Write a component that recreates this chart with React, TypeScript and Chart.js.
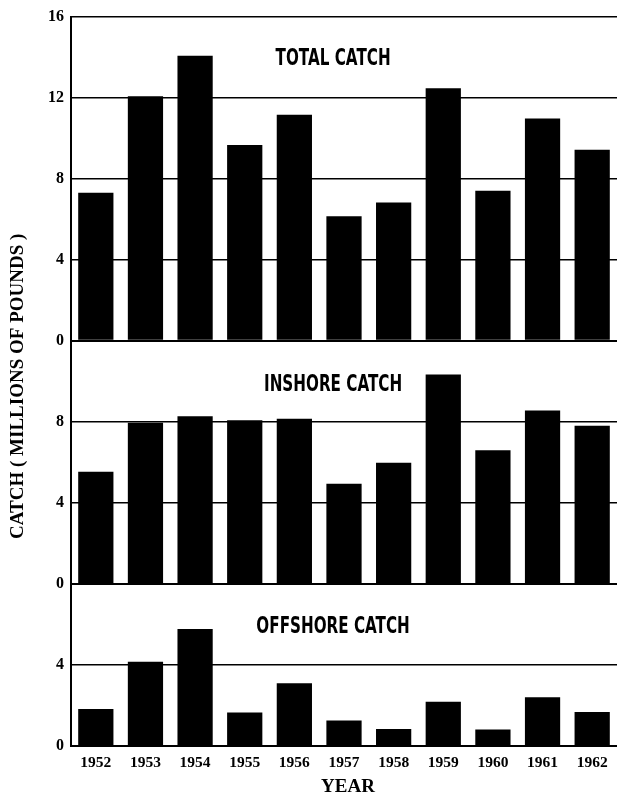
import React, { useEffect, useRef } from 'react';
import { Chart, registerables } from 'chart.js';

Chart.register(...registerables);

const years = ['1952', '1953', '1954', '1955', '1956', '1957', '1958', '1959', '1960', '1961', '1962'];
const totalCatch = [7.31, 12.07, 14.07, 9.66, 11.15, 6.14, 6.82, 12.46, 7.41, 10.97, 9.43];
const inshoreCatch = [5.53, 7.95, 8.28, 8.08, 8.15, 4.94, 5.98, 10.34, 6.6, 8.56, 7.8];
const offshoreCatch = [1.82, 4.16, 5.78, 1.65, 3.1, 1.26, 0.84, 2.18, 0.81, 2.41, 1.68];
const panelTitles = ['TOTAL CATCH', 'INSHORE CATCH', 'OFFSHORE CATCH'];
const panelMax = [16, 12, 8];
const tickStep = 4;
const yAxisTitle = 'CATCH ( MILLIONS OF POUNDS )';
const xAxisTitle = 'YEAR';

const serif = '"Liberation Serif", "Times New Roman", serif';

export default function App() {
  const ref = useRef<HTMLCanvasElement | null>(null);

  useEffect(() => {
    if (!ref.current) return;

    const textPlugin = {
      id: 'extraText',
      afterDraw(chart: any) {
        const ctx = chart.ctx;
        const { left, right, top, bottom } = chart.chartArea;
        ctx.save();
        ctx.fillStyle = '#000';
        ctx.font = 'bold 23px "DejaVu Sans", sans-serif';
        ctx.textAlign = 'center';
        ctx.textBaseline = 'middle';
        const sx = 0.66;
        const cx = left + (right - left) * 0.48;
        const specs: [string, string, number][] = [
          [panelTitles[0], 'yTotal', 13.9],
          [panelTitles[1], 'yIn', 9.8],
          [panelTitles[2], 'yOff', 5.85],
        ];
        for (const [t, id, v] of specs) {
          const y = chart.scales[id].getPixelForValue(v);
          ctx.save();
          ctx.translate(cx, y);
          ctx.scale(sx, 1);
          ctx.fillText(t, 0, 0);
          ctx.restore();
        }
        ctx.font = `bold 19px ${serif}`;
        ctx.save();
        ctx.translate(18, (top + bottom) / 2 + 5);
        ctx.rotate(-Math.PI / 2);
        ctx.fillText(yAxisTitle, 0, 0);
        ctx.restore();
        ctx.fillText(xAxisTitle, (left + right) / 2 + 4, bottom + 41);
        ctx.restore();
      },
    };

    const gridW = (c: any) => (c.tick && c.tick.value === 0 ? 2 : 1.4);

    const yScale = (max: number, hideTop: boolean) => ({
      type: 'linear',
      position: 'left',
      stack: 'panels',
      stackWeight: max,
      min: 0,
      max,
      border: { display: true, color: '#000', width: 2 },
      grid: { color: '#000', lineWidth: gridW, drawTicks: false },
      ticks: {
        stepSize: tickStep,
        padding: 7,
        color: '#000',
        font: { family: serif, weight: 'bold', size: 16 },
        callback: (v: any) => (hideTop && v === max ? '' : String(v)),
      },
      afterFit: (s: any) => {
        s.width = 71;
      },
    });

    const barStyle = {
      backgroundColor: '#000',
      borderWidth: 0,
      grouped: false,
      barPercentage: 0.71,
      categoryPercentage: 1,
    };

    const chart = new Chart(ref.current, {
      type: 'bar',
      data: {
        labels: years,
        datasets: [
          { label: 'Offshore', data: offshoreCatch, yAxisID: 'yOff', ...barStyle },
          { label: 'Inshore', data: inshoreCatch, yAxisID: 'yIn', ...barStyle },
          { label: 'Total', data: totalCatch, yAxisID: 'yTotal', ...barStyle },
        ],
      } as any,
      options: {
        animation: false,
        responsive: false,
        layout: { padding: { top: 16, left: 0, right: 0, bottom: 0 } },
        plugins: { legend: { display: false }, tooltip: { enabled: false } },
        scales: {
          x: {
            grid: { display: false },
            border: { display: false },
            ticks: {
              color: '#000',
              padding: 0,
              font: { family: serif, weight: 'bold', size: 15.5 },
            },
            afterFit: (s: any) => {
              s.height = 49;
            },
          },
          yOff: yScale(panelMax[2], true),
          yIn: yScale(panelMax[1], true),
          yTotal: yScale(panelMax[0], false),
        } as any,
      },
      plugins: [textPlugin],
    } as any);

    return () => chart.destroy();
  }, []);

  return (
    <div style={{ position: 'absolute', left: 0, top: 0, width: 617, height: 795, background: '#fff' }}>
      <canvas ref={ref} width={617} height={795} style={{ display: 'block' }} />
    </div>
  );
}
